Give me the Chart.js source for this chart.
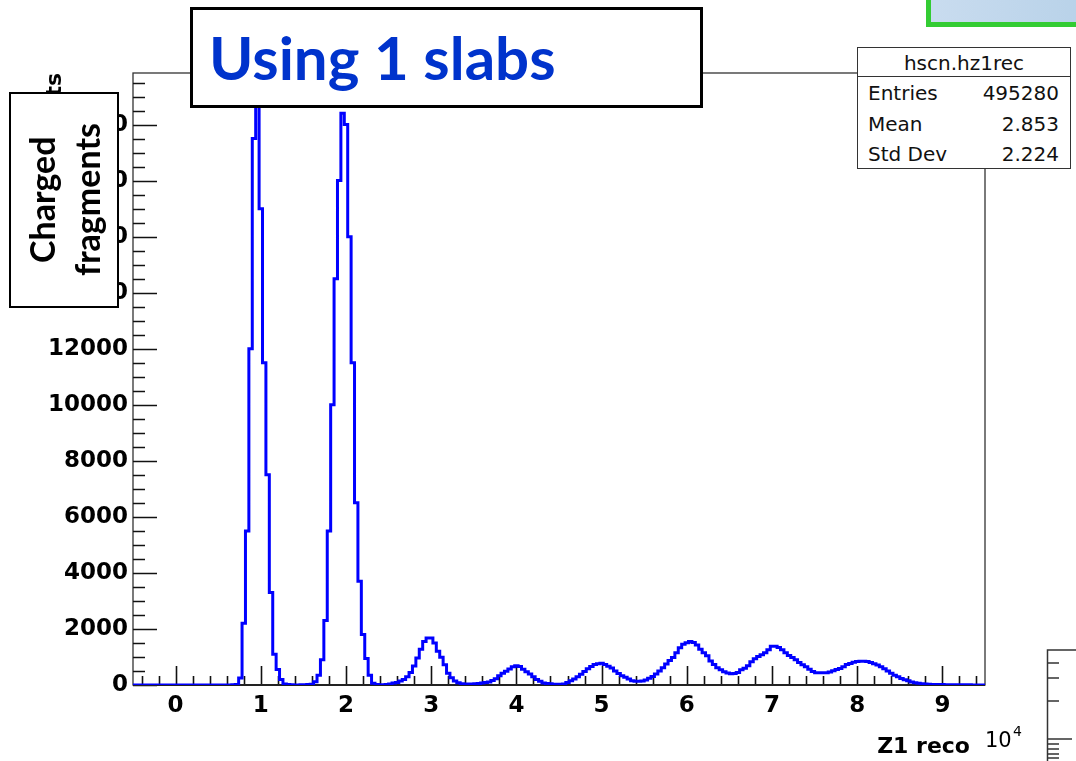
<!DOCTYPE html>
<html>
<head>
<meta charset="utf-8">
<script src="https://cdn.jsdelivr.net/npm/chart.js@4.4.1/dist/chart.umd.min.js"></script>
<style>
  html, body { margin: 0; padding: 0; background: #fff; }
  #wrap { position: relative; width: 1076px; height: 761px; overflow: hidden; }
  #hist { position: absolute; left: 0; top: 0; }
  .abs { position: absolute; white-space: nowrap; }
  #ytitle { left: 41px; top: 73px; height: 130px; width: 26px; line-height: 26px;
    font: bold 22px "DejaVu Sans"; writing-mode: vertical-rl; transform: rotate(180deg);
    text-align: end; color: #000; }
  #chargedBox { left: 9px; top: 92px; width: 106px; height: 212px; border: 2px solid #000;
    background: #fff; display: flex; align-items: center; justify-content: center; }
  #chargedBox span { writing-mode: vertical-rl; transform: rotate(180deg); text-align: center;
    font: bold 34px Lato; line-height: 45px; color: #000; }
  #titleBox { left: 190px; top: 7px; width: 507px; height: 95px; border: 3.5px solid #000; background: #fff; }
  #titleBox span { position: absolute; left: 16px; top: 11px; font: bold 60px Lato; line-height: 72px; color: #0033cc; }
  #stats { left: 857px; top: 47px; width: 212px; height: 120px; border: 1.5px solid #333; background: #fff;
    font: 20px "DejaVu Sans"; color: #111; }
  #stats .head { position: absolute; left: 0; right: 0; top: 0; height: 28px; border-bottom: 1.5px solid #333;
    text-align: center; line-height: 30px; }
  #stats .row { position: absolute; left: 10px; right: 11px; height: 30px; line-height: 30px; }
  #stats .row b { font-weight: normal; float: right; }
  #green { left: 926px; top: -25px; width: 200px; height: 42px; border: 5px solid #33cc33;
    background: linear-gradient(90deg, #c9dcef, #b3cfe7); }
  #xtitle { right: 106px; top: 735px; font: bold 22px "DejaVu Sans"; line-height: 22px; color: #000; }
  #expo { left: 985px; top: 730px; font: 21px "DejaVu Sans"; line-height: 21px; color: #000; }
  #expo .pw { position: absolute; left: 28px; top: -6px; font-size: 14px; line-height: 14px; }
  #nextPlot { left: 1046px; top: 648px; }
</style>
</head>
<body>
<div id="wrap">
  <canvas id="hist" width="1076" height="761"></canvas>
  <div class="abs" id="ytitle">Counts</div>
  <div class="abs" id="chargedBox"><span>Charged<br>fragments</span></div>
  <div class="abs" id="titleBox"><span>Using 1 slabs</span></div>
  <div class="abs" id="stats">
    <div class="head">hscn.hz1rec</div>
    <div class="row" style="top:30px">Entries<b>495280</b></div>
    <div class="row" style="top:61px">Mean<b>2.853</b></div>
    <div class="row" style="top:91px">Std Dev<b>2.224</b></div>
  </div>
  <div class="abs" id="green"></div>
  <div class="abs" id="xtitle">Z1 reco</div>
  <div class="abs" id="expo">10<span class="pw">4</span></div>
  <svg class="abs" id="nextPlot" width="30" height="113">
    <g stroke="#333" stroke-width="1.5" fill="none">
      <path d="M1.5 113 V2 H30"/>
      <path d="M1.5 15 H13 M1.5 30 H13 M1.5 53 H13 M1.5 91 H26 M1.5 96 H13 M1.5 101 H13 M1.5 106 H13 M1.5 110 H13"/>
    </g>
  </svg>
</div>
<script>
// histogram binning (Z1 reco, units of 10^4)
const binLow = -0.5;
const binWidth = 0.04;

// counts per bin (250 bins from -0.5 to 9.5)
const binCounts = [
  0, 0, 0, 0, 0, 0, 0, 0, 0, 0,
  0, 0, 0, 0, 0, 0, 0, 0, 0, 0,
  0, 0, 0, 0, 0, 0, 0, 0, 0, 0,
  5, 20, 250, 2200, 5500, 12000, 19500, 20800, 17000, 11500,
  7500, 3300, 1100, 550, 200, 40, 15, 5, 0, 0,
  5, 10, 15, 30, 120, 350, 900, 2300, 5500, 10000,
  14500, 18000, 20400, 20000, 16000, 11500, 6500, 3700, 1800, 950,
  350, 60, 20, 10, 10, 20, 40, 70, 90, 140,
  200, 290, 450, 680, 960, 1280, 1550, 1680, 1680, 1500,
  1200, 990, 720, 420, 260, 140, 80, 45, 35, 35,
  35, 45, 55, 70, 90, 110, 160, 220, 330, 420,
  490, 575, 650, 690, 660, 560, 470, 390, 290, 200,
  130, 75, 55, 45, 30, 30, 30, 40, 90, 150,
  210, 290, 380, 480, 580, 660, 730, 760, 780, 730,
  670, 610, 500, 410, 330, 280, 210, 155, 135, 135,
  140, 180, 240, 300, 390, 500, 620, 750, 870, 980,
  1150, 1330, 1450, 1510, 1550, 1520, 1430, 1280, 1150, 1040,
  860, 730, 620, 540, 475, 430, 400, 410, 450, 540,
  600, 690, 830, 940, 1020, 1080, 1150, 1260, 1385, 1385,
  1340, 1260, 1150, 1050, 980, 900, 800, 720, 650, 560,
  480, 440, 435, 435, 435, 460, 505, 550, 590, 650,
  730, 770, 810, 840, 850, 850, 835, 800, 760, 710,
  650, 580, 500, 420, 350, 290, 230, 185, 150, 110,
  80, 60, 45, 35, 25, 20, 18, 15, 15, 10,
  10, 8, 8, 6, 6, 5, 5, 4, 4, 3
];

const xTicks = [0, 1, 2, 3, 4, 5, 6, 7, 8, 9];
const yTicks = [0, 2000, 4000, 6000, 8000, 10000, 12000, 14000, 16000, 18000, 20000];
const xRange = [-0.5, 9.5];
const yMax = 21840;

// stepped outline: one point per lower bin edge, plus the last upper edge
let histPoints = [];
binCounts.forEach(function (c, i) {
  histPoints.push({x: binLow + i * binWidth, y: c});
});
histPoints.push({x: binLow + binCounts.length * binWidth, y: binCounts[binCounts.length - 1]});

// ROOT-like frame with inward tick marks
const frameTicks = {
  id: 'frameTicks',
  beforeDatasetsDraw(chart) {
    const {ctx, chartArea: a, scales: {x, y}} = chart;
    ctx.save();
    ctx.strokeStyle = '#333';
    ctx.lineWidth = 1.3;
    ctx.strokeRect(a.left, a.top, a.right - a.left, a.bottom - a.top);
    ctx.strokeStyle = '#111';
    ctx.lineWidth = 1.6;
    ctx.beginPath();
    for (let i = -2; i <= 47; i++) {
      const v = i * 0.2;
      const px = Math.round(x.getPixelForValue(v)) + 0.5;
      const len = (i % 5 === 0) ? 19 : 9;
      ctx.moveTo(px, a.bottom);
      ctx.lineTo(px, a.bottom - len);
    }
    for (let v = 0; v < yMax; v += 500) {
      const py = Math.round(y.getPixelForValue(v)) + 0.5;
      const len = (v % 2000 === 0) ? 24 : 12;
      ctx.moveTo(a.left, py);
      ctx.lineTo(a.left + len, py);
    }
    ctx.stroke();
    ctx.beginPath();
    ctx.lineWidth = 2;
    ctx.strokeStyle = '#222';
    ctx.moveTo(a.left, a.bottom);
    ctx.lineTo(a.right, a.bottom);
    ctx.stroke();
    ctx.restore();
  }
};

const tickFont = {family: 'DejaVu Sans', size: 23, weight: 'bold'};

new Chart(document.getElementById('hist'), {
  type: 'line',
  data: {
    datasets: [{
      label: 'hscn.hz1rec',
      data: histPoints,
      stepped: 'after',
      borderColor: '#0000ff',
      borderWidth: 3,
      pointRadius: 0,
      fill: false
    }]
  },
  options: {
    responsive: false,
    animation: false,
    devicePixelRatio: 1,
    layout: {padding: {left: 0, top: 73, right: 91, bottom: 0}},
    plugins: {legend: {display: false}, tooltip: {enabled: false}},
    scales: {
      x: {
        type: 'linear',
        min: xRange[0],
        max: xRange[1],
        grid: {display: false, drawTicks: false},
        border: {display: false},
        ticks: {font: tickFont, color: '#000', padding: 7, maxRotation: 0,
          callback: v => String(v)},
        afterBuildTicks: function (s) { s.ticks = xTicks.map(v => ({value: v})); },
        afterFit: function (s) { s.height = 76; }
      },
      y: {
        min: 0,
        max: yMax,
        grid: {display: false, drawTicks: false},
        border: {display: false},
        ticks: {font: tickFont, color: '#000', padding: 5,
          callback: v => String(v)},
        afterBuildTicks: function (s) { s.ticks = yTicks.map(v => ({value: v})); },
        afterFit: function (s) { s.width = 133; }
      }
    }
  },
  plugins: [frameTicks]
});
</script>
</body>
</html>
